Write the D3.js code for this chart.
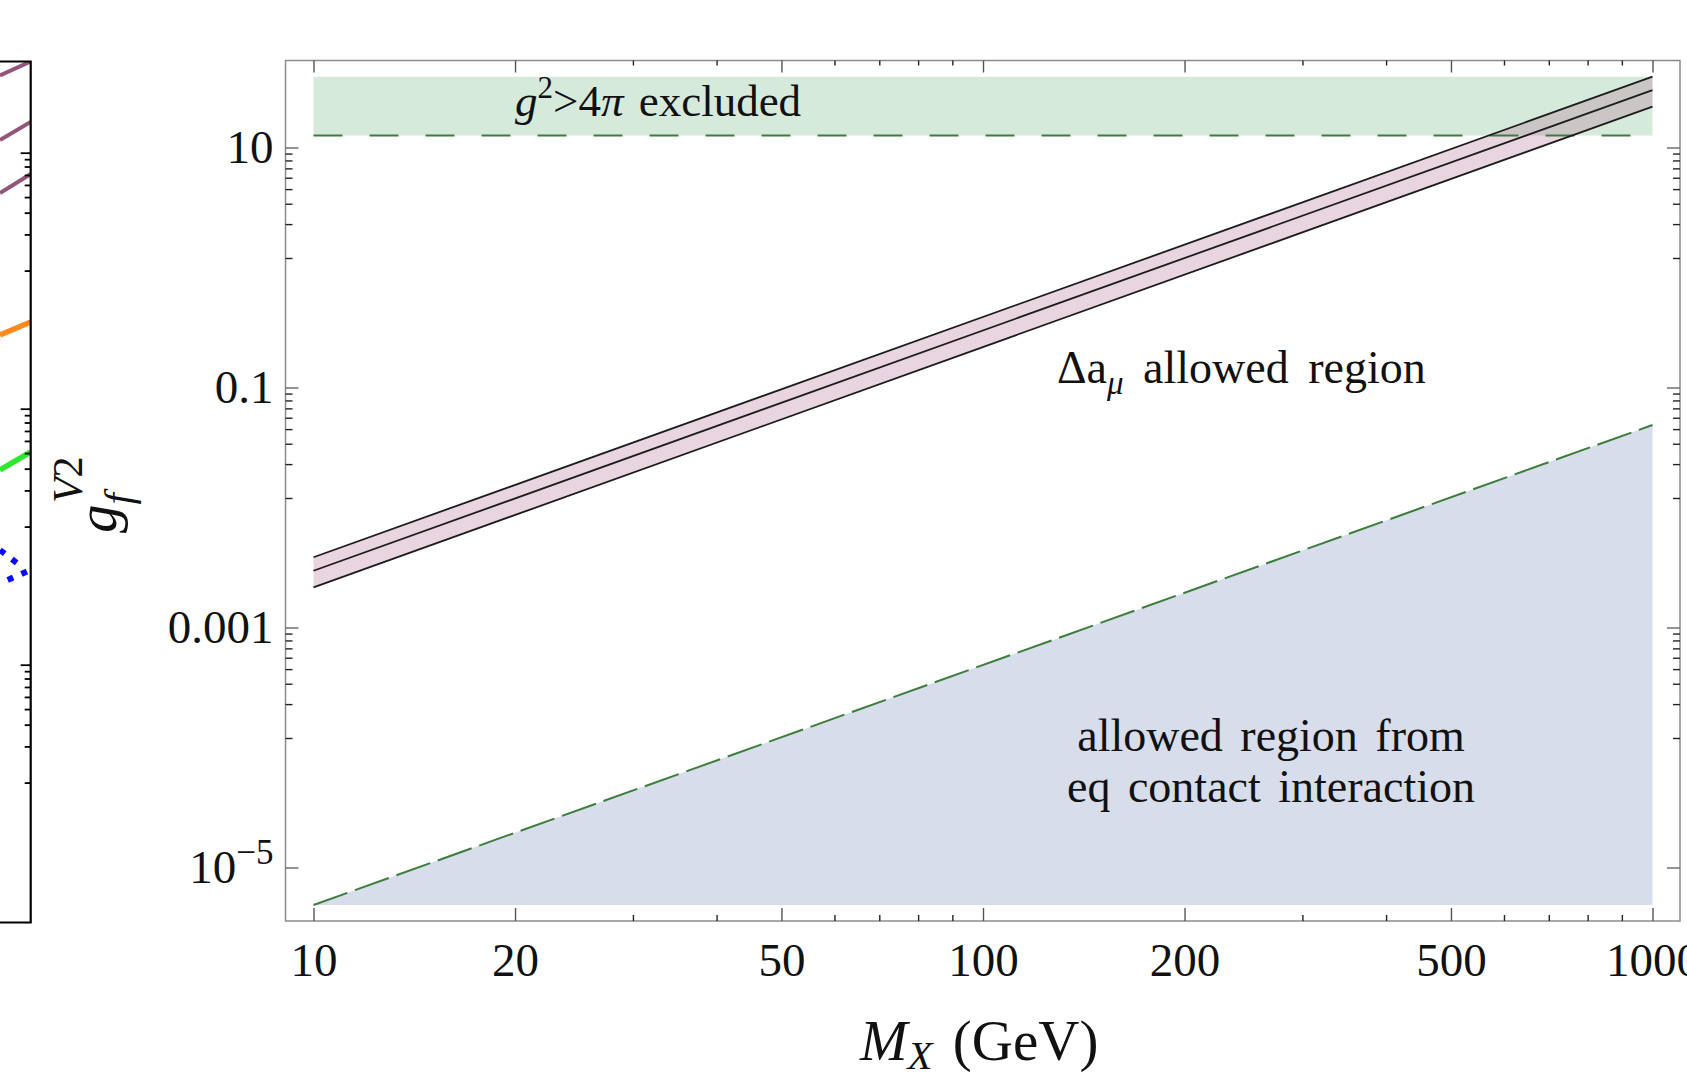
<!DOCTYPE html>
<html>
<head>
<meta charset="utf-8">
<script src="https://cdn.jsdelivr.net/npm/d3@7"></script>
<style>
  html, body { margin: 0; padding: 0; background: #fff; overflow: hidden; }
  svg { display: block; }
  text { font-family: "Liberation Serif", "Times New Roman", serif; fill: #111; }
</style>
</head>
<body>
<div id="chart"></div>
<script>
// values (g_f^V2 against M_X)
var massTicks = [10, 20, 50, 100, 200, 500, 1000];
var massMinorTicks = [30, 40, 60, 70, 80, 90, 300, 400, 600, 700, 800, 900];
var couplingTicks = [10, 0.1, 0.001, 1e-5];
var couplingTickLabels = ['10', '0.1', '0.001', '10^\u22125'];
var couplingMinorTicks = [
    8.9, 7.8, 6.7, 5.6, 4.5, 3.4, 2.3, 1.2,
    0.089, 0.078, 0.067, 0.056, 0.045, 0.034, 0.023, 0.012,
    0.00089, 0.00078, 0.00067, 0.00056, 0.00045, 0.00034, 0.00023, 0.00012
];

var bandMass = [10, 1000];
var bandUpper = [3.85e-3, 38.9];
var bandCentral = [2.97e-3, 30.1];
var bandLower = [2.16e-3, 21.9];

var perturbativeLimit = 12.57;   // g^2 = 4 pi
var contactMass = [10, 1000];
var contactBound = [4.87e-6, 0.0487];
var plotRange = [4.87e-6, 38.9];

// neighbouring panel, only its right edge is in the picture
var leftSlice = [0, 1];
var leftPurple1 = [40.1, 51.6];
var leftPurple2 = [12.57, 17.4];
var leftPurple3 = [4.84, 6.82];
var leftOrange = [0.377, 0.476];
var leftGreen = [0.0332, 0.0459];
var leftBlueUpperAt = [0, 0.55];
var leftBlueUpper = [7.87e-3, 6.23e-3];
var leftBlueLowerAt = [0.25, 1];
var leftBlueLower = [4.59e-3, 5.5e-3];
var leftMajorTicks = [10, 0.1, 0.001];

var W = 1687, H = 1079;
var frame = { left: 285.5, right: 1680, top: 60.5, bottom: 921 };

var svg = d3.select('#chart').append('svg')
    .attr('width', W)
    .attr('height', H);

var x = d3.scaleLog().domain([10, 1000]).range([313.5, 1652.5]);
var y = d3.scaleLog().domain([1e-5, 10]).range([867.5, 147.5]);

function zip(xs, ys){
    return xs.map(function(d, i){ return { m: d, g: ys[i] }; });
}

// ---- regions ----
var excluded = zip(bandMass, bandMass.map(function(){ return perturbativeLimit; }));
svg.append('path')
    .datum(excluded)
    .attr('fill', '#d6eadc')
    .attr('d', d3.area()
        .x(function(d){ return x(d.m); })
        .y0(function(d){ return y(d.g); })
        .y1(y(plotRange[1])));

svg.append('path')
    .datum(zip(contactMass, contactBound))
    .attr('fill', '#d7ddea')
    .attr('d', d3.area()
        .x(function(d){ return x(d.m); })
        .y0(y(plotRange[0]))
        .y1(function(d){ return y(d.g); }));

var band = bandMass.map(function(m, i){
    return { m: m, lo: bandLower[i], hi: bandUpper[i] };
});
svg.append('path')
    .datum(band)
    .attr('fill', 'rgb(175,105,145)')
    .attr('fill-opacity', 0.28)
    .attr('d', d3.area()
        .x(function(d){ return x(d.m); })
        .y0(function(d){ return y(d.lo); })
        .y1(function(d){ return y(d.hi); }));

var line = d3.line()
    .x(function(d){ return x(d.m); })
    .y(function(d){ return y(d.g); });

svg.append('path')
    .datum(excluded)
    .attr('fill', 'none')
    .attr('stroke', '#3c7d3c')
    .attr('stroke-width', 2)
    .attr('stroke-dasharray', '29,27')
    .attr('d', line);

svg.append('path')
    .datum(zip(contactMass, contactBound))
    .attr('fill', 'none')
    .attr('stroke', '#3c7d3c')
    .attr('stroke-width', 2)
    .attr('stroke-dasharray', '36,8')
    .attr('d', line);

[bandUpper, bandCentral, bandLower].forEach(function(vals){
    svg.append('path')
        .datum(zip(bandMass, vals))
        .attr('fill', 'none')
        .attr('stroke', '#1c1c1c')
        .attr('stroke-width', 1.8)
        .attr('d', line);
});

// ---- frame and ticks ----
svg.append('rect')
    .attr('x', frame.left)
    .attr('y', frame.top)
    .attr('width', frame.right - frame.left)
    .attr('height', frame.bottom - frame.top)
    .attr('fill', 'none')
    .attr('stroke', '#8c8c8c')
    .attr('stroke-width', 1.5);

function ticks(axis, tx, ty, color){
    var g = svg.append('g')
        .attr('transform', 'translate(' + tx + ',' + ty + ')')
        .call(axis);
    g.select('.domain').remove();
    g.selectAll('.tick line').attr('stroke', color).attr('stroke-width', 1.4);
    g.selectAll('text')
        .style('font-family', '"Liberation Serif", "Times New Roman", serif')
        .style('font-size', '47px')
        .attr('fill', '#111');
    return g;
}

ticks(d3.axisBottom(x).tickValues(massTicks).tickSize(-13).tickPadding(22)
    .tickFormat(d3.format('d')), 0, frame.bottom, '#555');
ticks(d3.axisBottom(x).tickValues(massMinorTicks).tickSize(-6).tickFormat(''), 0, frame.bottom, '#222');
ticks(d3.axisTop(x).tickValues(massTicks).tickSize(-12).tickFormat(''), 0, frame.top, '#555');
ticks(d3.axisTop(x).tickValues(massMinorTicks).tickSize(-5).tickFormat(''), 0, frame.top, '#222');

var yAxis = ticks(d3.axisLeft(y).tickValues(couplingTicks).tickSize(-13).tickPadding(12)
    .tickFormat(function(d, i){ return couplingTickLabels[i]; }), frame.left, 0, '#666');
yAxis.selectAll('text').each(function(){
    var t = d3.select(this), s = t.text();
    if (s.indexOf('^') < 0) return;
    var parts = s.split('^');
    t.text(null);
    t.append('tspan').text(parts[0]);
    t.append('tspan').attr('dy', '-19').style('font-size', '35px').text(parts[1]);
});
ticks(d3.axisLeft(y).tickValues(couplingMinorTicks).tickSize(-7).tickFormat(''), frame.left, 0, '#222');
ticks(d3.axisRight(y).tickValues(couplingTicks).tickSize(-13).tickFormat(''), frame.right, 0, '#666');
ticks(d3.axisRight(y).tickValues(couplingMinorTicks).tickSize(-7).tickFormat(''), frame.right, 0, '#222');

// ---- labels ----
var ex = svg.append('text')
    .attr('x', 515).attr('y', 116)
    .style('font-size', '45px');
ex.append('tspan').style('font-style', 'italic').text('g');
ex.append('tspan').attr('dy', -18).style('font-size', '31px').text('2');
ex.append('tspan').attr('dy', 18).text('>4');
ex.append('tspan').style('font-style', 'italic').text('\u03c0');
ex.append('tspan').style('word-spacing', '4px').text(' excluded');

var da = svg.append('text')
    .attr('x', 1057).attr('y', 383)
    .style('font-size', '46px');
da.append('tspan').text('\u0394a');
da.append('tspan').attr('dy', 11).style('font-size', '33px').style('font-style', 'italic').text('\u03bc');
da.append('tspan').attr('dy', -11).style('word-spacing', '8px').text(' allowed region');

['allowed region from', 'eq contact interaction'].forEach(function(s, i){
    svg.append('text')
        .attr('x', 1271).attr('y', 751 + i * 51)
        .attr('text-anchor', 'middle')
        .style('font-size', '46px')
        .style('word-spacing', '6px')
        .text(s);
});

var xt = svg.append('text')
    .attr('x', 860).attr('y', 1060)
    .style('font-size', '57px');
xt.append('tspan').style('font-style', 'italic').text('M');
xt.append('tspan').attr('dy', 9).style('font-size', '41px').style('font-style', 'italic').text('X');
xt.append('tspan').attr('dy', -9).style('word-spacing', '6px').text(' (GeV)');

var yt = svg.append('text')
    .attr('transform', 'translate(116,533) rotate(-90)')
    .style('font-size', '57px');
yt.append('tspan').style('font-style', 'italic').text('g');
yt.append('tspan').attr('dy', 16).style('font-size', '41px').style('font-style', 'italic').text('f');
yt.append('tspan').attr('dx', -10).attr('dy', -50).style('font-size', '42px').style('font-style', 'italic').text('V');
yt.append('tspan').style('font-size', '42px').text('2');

// ---- cut-off neighbour panel ----
var lx = d3.scaleLinear().domain([0, 1]).range([0, 30.7]);
var ly = d3.scaleLog().domain([1e-5, 10]).range([920.7, 152.7]);

svg.append('clipPath').attr('id', 'leftclip')
    .append('rect').attr('x', 0).attr('y', 61.5).attr('width', 30.7).attr('height', 861);

var lp = svg.append('g').attr('clip-path', 'url(#leftclip)');
var lline = d3.line()
    .x(function(d){ return lx(d.at); })
    .y(function(d){ return ly(d.g); });
function lpts(at, vals){
    return at.map(function(a, i){ return { at: a, g: vals[i] }; });
}
[leftPurple1, leftPurple2, leftPurple3].forEach(function(v){
    lp.append('path').datum(lpts(leftSlice, v))
        .attr('fill', 'none').attr('stroke', '#93567a').attr('stroke-width', 4)
        .attr('d', lline);
});
lp.append('path').datum(lpts(leftSlice, leftOrange))
    .attr('fill', 'none').attr('stroke', '#ff8a1c').attr('stroke-width', 5.5)
    .attr('d', lline);
lp.append('path').datum(lpts(leftSlice, leftGreen))
    .attr('fill', 'none').attr('stroke', '#2ee82e').attr('stroke-width', 5.5)
    .attr('d', lline);
[[leftBlueUpperAt, leftBlueUpper], [leftBlueLowerAt, leftBlueLower]].forEach(function(p){
    lp.append('path').datum(lpts(p[0], p[1]))
        .attr('fill', 'none').attr('stroke', '#0a0aff').attr('stroke-width', 6)
        .attr('stroke-dasharray', '6,9')
        .attr('d', lline);
});

svg.append('path')
    .attr('d', 'M-5,61.5H30.7V922.5H-5')
    .attr('fill', 'none')
    .attr('stroke', '#000')
    .attr('stroke-width', 2.2);

var lt = svg.append('g').attr('transform', 'translate(30.7,0)')
    .call(d3.axisLeft(ly).tickValues(leftMajorTicks).tickSize(10).tickFormat(''));
var lm = svg.append('g').attr('transform', 'translate(30.7,0)')
    .call(d3.axisLeft(ly).tickValues(couplingMinorTicks).tickSize(6).tickFormat(''));
[lt, lm].forEach(function(g){
    g.select('.domain').remove();
    g.selectAll('.tick line').attr('stroke', '#000').attr('stroke-width', 1.8);
});
</script>
</body>
</html>
